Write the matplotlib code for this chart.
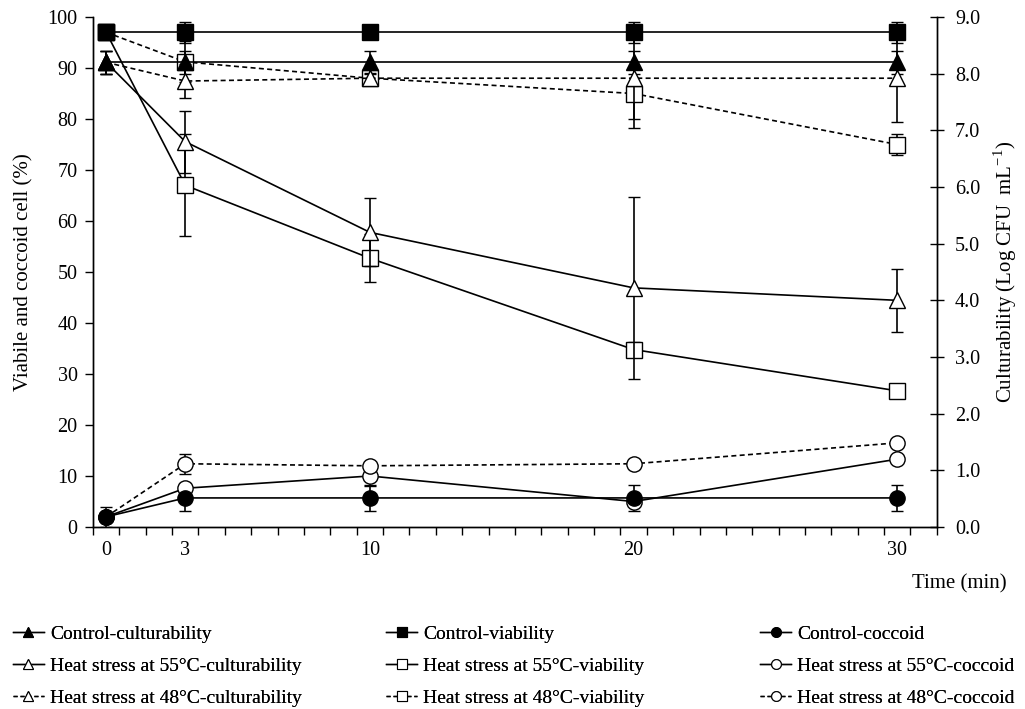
import numpy as np
import matplotlib
matplotlib.use('Agg')
from matplotlib import pyplot as plt
from matplotlib.lines import Line2D

plt.rcParams['font.family'] = ['Liberation Serif', 'DejaVu Serif']
plt.rcParams['mathtext.fontset'] = 'custom'
plt.rcParams['mathtext.rm'] = 'Liberation Serif'

# time points (min)
times = [0, 3, 10, 20, 30]

# viability / coccoid (%), left axis
ctrl_viab = [97, 97, 97, 97, 97]
ctrl_viab_err = [0.5, 2.0, 0.5, 2.0, 2.0]
h55_viab = [97, 67, 52.7, 34.8, 26.7]
h55_viab_err = [0.5, 10.0, 4.7, 1.5, 0.8]
h48_viab = [97, 91.2, 88, 85, 75]
h48_viab_err = [0.5, 4.0, 1.0, 5.0, 2.0]

ctrl_cocc = [2.0, 5.7, 5.7, 5.7, 5.7]
ctrl_cocc_err = [2.0, 2.5, 2.5, 2.5, 2.5]
h55_cocc = [2.0, 7.6, 10.0, 5.0, 13.3]
h55_cocc_err = [0.5, 1.0, 2.0, 0.8, 0.5]
h48_cocc = [2.0, 12.4, 12.0, 12.4, 16.5]
h48_cocc_err = [0.5, 2.0, 0.8, 1.0, 0.5]

# culturability (Log CFU/mL), right axis
ctrl_cult = [8.2, 8.2, 8.2, 8.2, 8.2]
ctrl_cult_err = [0.2, 0.2, 0.2, 0.2, 0.2]
h55_cult = [8.2, 6.8, 5.2, 4.22, 4.0]
h55_cult_err = [0.2, 0.55, 0.6, 1.6, 0.55]
h48_cult = [8.2, 7.87, 7.92, 7.92, 7.92]
h48_cult_err = [0.2, 0.3, 0.1, 0.88, 0.77]

xticks = [0, 3, 10, 20, 30]

fig = plt.figure(figsize=(10.25, 7.09), dpi=100)
ax = fig.add_axes([0.0907, 0.2567, 0.8233, 0.7193])
ax2 = ax.twinx()

dash = (0, (3, 2))
ms = 11

def series(a, y, err, ls, marker, fill):
    a.errorbar(times, y, yerr=err, color='black', ls=ls, lw=1.2,
               marker=marker, ms=ms, mfc='black' if fill else 'white',
               mec='black', mew=1.0, ecolor='black', elinewidth=1.2,
               capsize=4, capthick=1.2)

# viability + coccoid on the left axis (controls last so they sit on top)
series(ax, h55_viab, h55_viab_err, '-', 's', False)
series(ax, h48_viab, h48_viab_err, dash, 's', False)
series(ax, ctrl_viab, ctrl_viab_err, '-', 's', True)
series(ax, h55_cocc, h55_cocc_err, '-', 'o', False)
series(ax, h48_cocc, h48_cocc_err, dash, 'o', False)
series(ax, ctrl_cocc, ctrl_cocc_err, '-', 'o', True)

# culturability on the right axis
series(ax2, h55_cult, h55_cult_err, '-', '^', False)
series(ax2, h48_cult, h48_cult_err, dash, '^', False)
series(ax2, ctrl_cult, ctrl_cult_err, '-', '^', True)

ax.set_xlim(-0.5, 31.5)
ax.set_ylim(0, 100)
ax2.set_ylim(0, 9)
ax.set_yticks(np.arange(0, 101, 10))
ax2.set_yticks(np.arange(0, 9.1, 1))
ax2.set_yticklabels(['%.1f' % v for v in np.arange(0, 9.1, 1)])
ax.set_xticks(xticks)
ax.set_xticks(np.arange(-0.5, 31.6, 1), minor=True)
ax.tick_params(axis='x', which='major', length=0, labelsize=14.5, pad=10)
ax.tick_params(axis='x', which='minor', length=6, direction='out', width=1)
ax.tick_params(axis='y', length=6, direction='out', width=1, labelsize=14.5, pad=5)
ax2.tick_params(axis='y', length=10, direction='inout', width=1, labelsize=14.5, pad=8)

for a in (ax, ax2):
    a.spines['top'].set_visible(False)
    for s in a.spines.values():
        s.set_linewidth(1.0)

ax.set_ylabel('Viabile and coccoid cell (%)', fontsize=15, labelpad=10)
ax2.set_ylabel(r'Culturability (Log CFU  mL$^{\mathregular{-1}}$)', fontsize=15, labelpad=8)
fig.text(0.982, 0.177, 'Time (min)', fontsize=15, ha='right', va='center')

def handle(ls, marker, fill):
    return Line2D([], [], color='black', ls=ls, lw=1.0, marker=marker, ms=7,
                  mfc='black' if fill else 'white', mec='black', mew=0.8)

cols = [
    (0.005, [handle('-', '^', True), handle('-', '^', False), handle(dash, '^', False)],
     ['Control-culturability', 'Heat stress at 55°C-culturability',
      'Heat stress at 48°C-culturability']),
    (0.369, [handle('-', 's', True), handle('-', 's', False), handle(dash, 's', False)],
     ['Control-viability', 'Heat stress at 55°C-viability',
      'Heat stress at 48°C-viability']),
    (0.734, [handle('-', 'o', True), handle('-', 'o', False), handle(dash, 'o', False)],
     ['Control-coccoid', 'Heat stress at 55°C-coccoid',
      'Heat stress at 48°C-coccoid']),
]
for x0, hs, labels in cols:
    leg = fig.legend(hs, labels, loc='upper left', bbox_to_anchor=(x0, 0.129),
                     frameon=False, fontsize=14, handlelength=1.6,
                     handletextpad=0.3, labelspacing=0.73, borderaxespad=0)
    fig.add_artist(leg)

fig.savefig('out.png', dpi=100)
